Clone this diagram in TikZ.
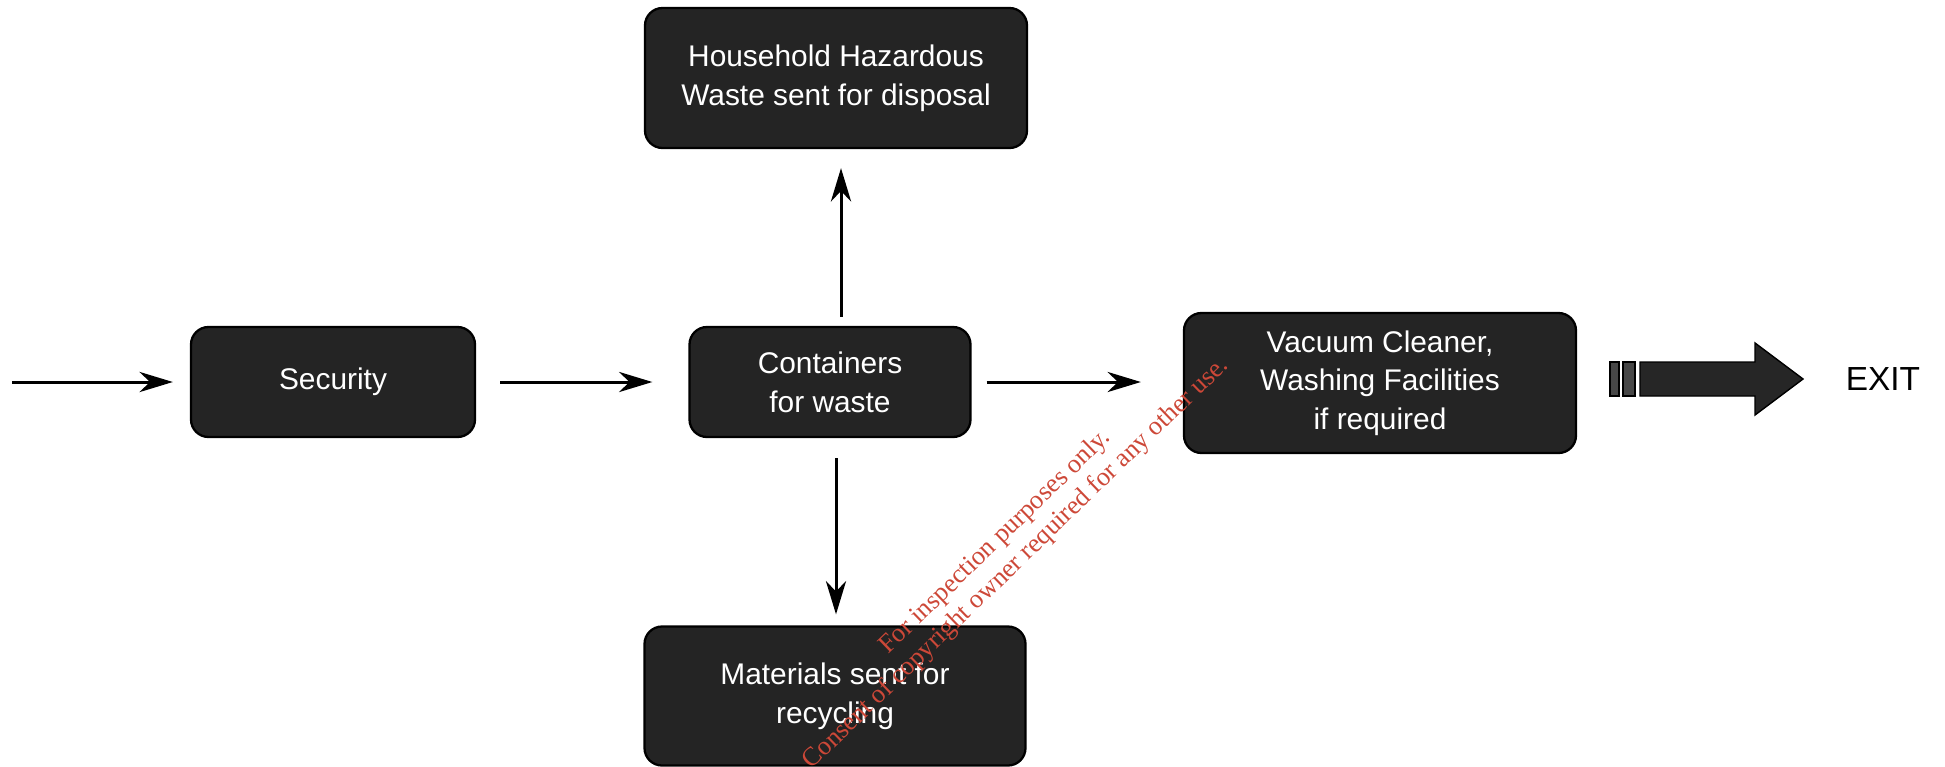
\documentclass[tikz,border=0pt]{standalone}
\usepackage{fontspec}
\setmainfont{Liberation Sans}
\newfontfamily\wmfont{Liberation Serif}
\usepackage{tikz}
\usetikzlibrary{arrows.meta,calc}
\usepackage{xcolor}
\definecolor{wmred}{RGB}{205,72,56}
\tikzset{
  stage/.style={draw=black,line width=1.3pt,fill=black!86,rounded corners=0.35cm,
                text=white,align=center,inner sep=0pt,
                font=\fontsize{17}{22}\selectfont},
  flow/.style ={draw,line width=1.7pt,-{Stealth[length=19pt,width=11.5pt,inset=6pt]}},
  bar/.style  ={draw=black,line width=0.8pt,fill=black!72},
}

\begin{document}
\begin{tikzpicture}
  \useasboundingbox (0,0) rectangle (38.9,-15.32);
  % stages
  \node[stage,minimum width=5.68cm,minimum height=2.2cm] (sec) at (6.66,-7.64) {Security};
  \node[stage,minimum width=5.62cm,minimum height=2.2cm] (cont) at (16.6,-7.64) {Containers\\for waste};
  \node[stage,minimum width=7.64cm,minimum height=2.8cm] (haz) at (16.72,-1.56) {Household Hazardous\\Waste sent for disposal};
  \node[stage,minimum width=7.62cm,minimum height=2.78cm] (mat) at (16.7,-13.92) {Materials sent for\\recycling};
  \node[stage,minimum width=7.84cm,minimum height=2.8cm] (vac) at (27.6,-7.66) {Vacuum Cleaner,\\Washing Facilities\\if required};
  \coordinate (in) at (0.24,-7.64);
  % connectors
  \draw[flow,shorten >=0.34cm] (in) -- (sec);
  \draw[flow,shorten <=0.48cm,shorten >=0.72cm] (sec) -- (cont);
  \draw[flow,shorten <=0.3cm,shorten >=0.84cm] (cont.east) -- (cont.east -| vac.west);
  \draw[flow,shorten <=0.18cm,shorten >=0.38cm] (cont.north -| 16.82,0) -- (haz.south -| 16.82,0);
  \draw[flow,shorten <=0.4cm,shorten >=0.22cm] (cont.south -| 16.72,0) -- (mat.north -| 16.72,0);
  % exit arrow
  \node[font=\fontsize{19}{22}\selectfont] (exit) at (37.66,-7.58) {EXIT};
  \draw[bar] (32.2,-7.24) rectangle (32.38,-7.92);
  \draw[bar] (32.46,-7.24) rectangle (32.7,-7.92);
  \draw[draw=black,line width=0.8pt,fill=black!85]
    (32.8,-7.24) -- (35.1,-7.24) -- (35.1,-6.86) -- (36.06,-7.58)
    -- (35.1,-8.3) -- (35.1,-7.92) -- (32.8,-7.92) -- cycle;
  % watermark
  \node[text=wmred,rotate=44,align=center,font=\wmfont\fontsize{15}{17}\selectfont]
    (wm) at (20.12,-11.06) {For inspection purposes only.\\Consent of copyright owner required for any other use.};
\end{tikzpicture}
\end{document}
